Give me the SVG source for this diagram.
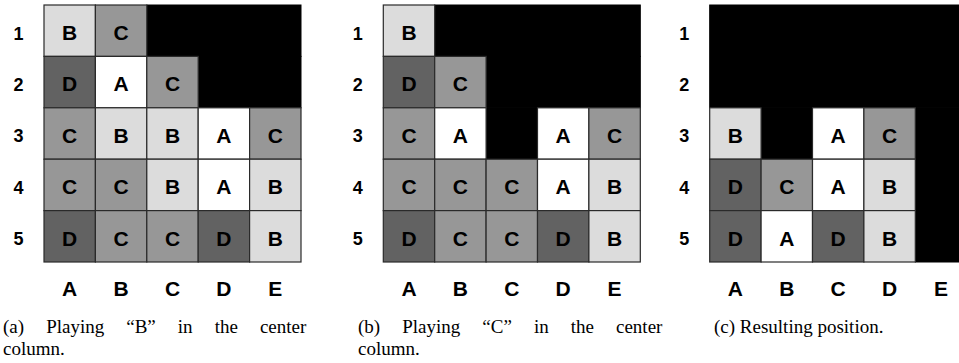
<svg xmlns="http://www.w3.org/2000/svg" width="959" height="363" viewBox="0 0 959 363">
  <style>
    .cell { stroke: #2a2a2a; stroke-width: 1.2; }
    .A { fill: #ffffff; }
    .B { fill: #dcdcdc; }
    .C { fill: #979797; }
    .D { fill: #626262; }
    .K { fill: #000000; stroke: #000000; stroke-width: 1; }
    .lt { font-family: "Liberation Sans", Arial, sans-serif; font-weight: bold; font-size: 21px; fill: #000; text-anchor: middle; }
    .rl { font-family: "Liberation Sans", Arial, sans-serif; font-weight: bold; font-size: 18px; fill: #000; text-anchor: middle; }
    .cap { font-family: "Liberation Serif", "Times New Roman", serif; font-size: 19px; fill: #000; }
    .just { word-spacing: 17.3px; }
  </style>
  <rect width="959" height="363" fill="#ffffff"/>

  <!-- Board (a): cells 51.4 px square -->
  <g id="board-a" transform="translate(44,5)">
    <g id="a-blocked">
      <rect class="K" x="102.8" y="0" width="154.2" height="51.4"/>
      <rect class="K" x="154.2" y="51.4" width="102.8" height="51.4"/>
    </g>
    <g id="a-1A"><rect class="cell B" x="0" y="0" width="51.4" height="51.4"/><text class="lt" x="25.7" y="35">B</text></g>
    <g id="a-1B"><rect class="cell C" x="51.4" y="0" width="51.4" height="51.4"/><text class="lt" x="77.1" y="35">C</text></g>
    <g id="a-2A"><rect class="cell D" x="0" y="51.4" width="51.4" height="51.4"/><text class="lt" x="25.7" y="86.4">D</text></g>
    <g id="a-2B"><rect class="cell A" x="51.4" y="51.4" width="51.4" height="51.4"/><text class="lt" x="77.1" y="86.4">A</text></g>
    <g id="a-2C"><rect class="cell C" x="102.8" y="51.4" width="51.4" height="51.4"/><text class="lt" x="128.5" y="86.4">C</text></g>
    <g id="a-3A"><rect class="cell C" x="0" y="102.8" width="51.4" height="51.4"/><text class="lt" x="25.7" y="137.8">C</text></g>
    <g id="a-3B"><rect class="cell B" x="51.4" y="102.8" width="51.4" height="51.4"/><text class="lt" x="77.1" y="137.8">B</text></g>
    <g id="a-3C"><rect class="cell B" x="102.8" y="102.8" width="51.4" height="51.4"/><text class="lt" x="128.5" y="137.8">B</text></g>
    <g id="a-3D"><rect class="cell A" x="154.2" y="102.8" width="51.4" height="51.4"/><text class="lt" x="179.9" y="137.8">A</text></g>
    <g id="a-3E"><rect class="cell C" x="205.6" y="102.8" width="51.4" height="51.4"/><text class="lt" x="231.3" y="137.8">C</text></g>
    <g id="a-4A"><rect class="cell C" x="0" y="154.2" width="51.4" height="51.4"/><text class="lt" x="25.7" y="189.2">C</text></g>
    <g id="a-4B"><rect class="cell C" x="51.4" y="154.2" width="51.4" height="51.4"/><text class="lt" x="77.1" y="189.2">C</text></g>
    <g id="a-4C"><rect class="cell B" x="102.8" y="154.2" width="51.4" height="51.4"/><text class="lt" x="128.5" y="189.2">B</text></g>
    <g id="a-4D"><rect class="cell A" x="154.2" y="154.2" width="51.4" height="51.4"/><text class="lt" x="179.9" y="189.2">A</text></g>
    <g id="a-4E"><rect class="cell B" x="205.6" y="154.2" width="51.4" height="51.4"/><text class="lt" x="231.3" y="189.2">B</text></g>
    <g id="a-5A"><rect class="cell D" x="0" y="205.6" width="51.4" height="51.4"/><text class="lt" x="25.7" y="240.6">D</text></g>
    <g id="a-5B"><rect class="cell C" x="51.4" y="205.6" width="51.4" height="51.4"/><text class="lt" x="77.1" y="240.6">C</text></g>
    <g id="a-5C"><rect class="cell C" x="102.8" y="205.6" width="51.4" height="51.4"/><text class="lt" x="128.5" y="240.6">C</text></g>
    <g id="a-5D"><rect class="cell D" x="154.2" y="205.6" width="51.4" height="51.4"/><text class="lt" x="179.9" y="240.6">D</text></g>
    <g id="a-5E"><rect class="cell B" x="205.6" y="205.6" width="51.4" height="51.4"/><text class="lt" x="231.3" y="240.6">B</text></g>
    <g id="a-rows">
      <text class="rl" x="-25.5" y="34.5">1</text>
      <text class="rl" x="-25.5" y="85.9">2</text>
      <text class="rl" x="-25.5" y="137.3">3</text>
      <text class="rl" x="-25.5" y="188.7">4</text>
      <text class="rl" x="-25.5" y="240.1">5</text>
    </g>
    <g id="a-cols">
      <text class="lt" x="25.7" y="291">A</text>
      <text class="lt" x="77.1" y="291">B</text>
      <text class="lt" x="128.5" y="291">C</text>
      <text class="lt" x="179.9" y="291">D</text>
      <text class="lt" x="231.3" y="291">E</text>
    </g>
  </g>

  <!-- Board (b) -->
  <g id="board-b" transform="translate(383.3,5)">
    <g id="b-blocked">
      <rect class="K" x="51.4" y="0" width="205.6" height="51.4"/>
      <rect class="K" x="102.8" y="51.4" width="154.2" height="51.4"/>
      <rect class="K" x="102.8" y="102.8" width="51.4" height="51.4"/>
    </g>
    <g id="b-1A"><rect class="cell B" x="0" y="0" width="51.4" height="51.4"/><text class="lt" x="25.7" y="35">B</text></g>
    <g id="b-2A"><rect class="cell D" x="0" y="51.4" width="51.4" height="51.4"/><text class="lt" x="25.7" y="86.4">D</text></g>
    <g id="b-2B"><rect class="cell C" x="51.4" y="51.4" width="51.4" height="51.4"/><text class="lt" x="77.1" y="86.4">C</text></g>
    <g id="b-3A"><rect class="cell C" x="0" y="102.8" width="51.4" height="51.4"/><text class="lt" x="25.7" y="137.8">C</text></g>
    <g id="b-3B"><rect class="cell A" x="51.4" y="102.8" width="51.4" height="51.4"/><text class="lt" x="77.1" y="137.8">A</text></g>
    <g id="b-3D"><rect class="cell A" x="154.2" y="102.8" width="51.4" height="51.4"/><text class="lt" x="179.9" y="137.8">A</text></g>
    <g id="b-3E"><rect class="cell C" x="205.6" y="102.8" width="51.4" height="51.4"/><text class="lt" x="231.3" y="137.8">C</text></g>
    <g id="b-4A"><rect class="cell C" x="0" y="154.2" width="51.4" height="51.4"/><text class="lt" x="25.7" y="189.2">C</text></g>
    <g id="b-4B"><rect class="cell C" x="51.4" y="154.2" width="51.4" height="51.4"/><text class="lt" x="77.1" y="189.2">C</text></g>
    <g id="b-4C"><rect class="cell C" x="102.8" y="154.2" width="51.4" height="51.4"/><text class="lt" x="128.5" y="189.2">C</text></g>
    <g id="b-4D"><rect class="cell A" x="154.2" y="154.2" width="51.4" height="51.4"/><text class="lt" x="179.9" y="189.2">A</text></g>
    <g id="b-4E"><rect class="cell B" x="205.6" y="154.2" width="51.4" height="51.4"/><text class="lt" x="231.3" y="189.2">B</text></g>
    <g id="b-5A"><rect class="cell D" x="0" y="205.6" width="51.4" height="51.4"/><text class="lt" x="25.7" y="240.6">D</text></g>
    <g id="b-5B"><rect class="cell C" x="51.4" y="205.6" width="51.4" height="51.4"/><text class="lt" x="77.1" y="240.6">C</text></g>
    <g id="b-5C"><rect class="cell C" x="102.8" y="205.6" width="51.4" height="51.4"/><text class="lt" x="128.5" y="240.6">C</text></g>
    <g id="b-5D"><rect class="cell D" x="154.2" y="205.6" width="51.4" height="51.4"/><text class="lt" x="179.9" y="240.6">D</text></g>
    <g id="b-5E"><rect class="cell B" x="205.6" y="205.6" width="51.4" height="51.4"/><text class="lt" x="231.3" y="240.6">B</text></g>
    <g id="b-rows">
      <text class="rl" x="-25.5" y="34.5">1</text>
      <text class="rl" x="-25.5" y="85.9">2</text>
      <text class="rl" x="-25.5" y="137.3">3</text>
      <text class="rl" x="-25.5" y="188.7">4</text>
      <text class="rl" x="-25.5" y="240.1">5</text>
    </g>
    <g id="b-cols">
      <text class="lt" x="25.7" y="291">A</text>
      <text class="lt" x="77.1" y="291">B</text>
      <text class="lt" x="128.5" y="291">C</text>
      <text class="lt" x="179.9" y="291">D</text>
      <text class="lt" x="231.3" y="291">E</text>
    </g>
  </g>

  <!-- Board (c) -->
  <g id="board-c" transform="translate(709.7,5)">
    <g id="c-blocked">
      <rect class="K" x="0" y="0" width="257" height="102.8"/>
      <rect class="K" x="51.4" y="102.8" width="51.4" height="51.4"/>
      <rect class="K" x="205.6" y="102.8" width="51.4" height="154.2"/>
    </g>
    <g id="c-3A"><rect class="cell B" x="0" y="102.8" width="51.4" height="51.4"/><text class="lt" x="25.7" y="137.8">B</text></g>
    <g id="c-3C"><rect class="cell A" x="102.8" y="102.8" width="51.4" height="51.4"/><text class="lt" x="128.5" y="137.8">A</text></g>
    <g id="c-3D"><rect class="cell C" x="154.2" y="102.8" width="51.4" height="51.4"/><text class="lt" x="179.9" y="137.8">C</text></g>
    <g id="c-4A"><rect class="cell D" x="0" y="154.2" width="51.4" height="51.4"/><text class="lt" x="25.7" y="189.2">D</text></g>
    <g id="c-4B"><rect class="cell C" x="51.4" y="154.2" width="51.4" height="51.4"/><text class="lt" x="77.1" y="189.2">C</text></g>
    <g id="c-4C"><rect class="cell A" x="102.8" y="154.2" width="51.4" height="51.4"/><text class="lt" x="128.5" y="189.2">A</text></g>
    <g id="c-4D"><rect class="cell B" x="154.2" y="154.2" width="51.4" height="51.4"/><text class="lt" x="179.9" y="189.2">B</text></g>
    <g id="c-5A"><rect class="cell D" x="0" y="205.6" width="51.4" height="51.4"/><text class="lt" x="25.7" y="240.6">D</text></g>
    <g id="c-5B"><rect class="cell A" x="51.4" y="205.6" width="51.4" height="51.4"/><text class="lt" x="77.1" y="240.6">A</text></g>
    <g id="c-5C"><rect class="cell D" x="102.8" y="205.6" width="51.4" height="51.4"/><text class="lt" x="128.5" y="240.6">D</text></g>
    <g id="c-5D"><rect class="cell B" x="154.2" y="205.6" width="51.4" height="51.4"/><text class="lt" x="179.9" y="240.6">B</text></g>
    <g id="c-rows">
      <text class="rl" x="-25.5" y="34.5">1</text>
      <text class="rl" x="-25.5" y="85.9">2</text>
      <text class="rl" x="-25.5" y="137.3">3</text>
      <text class="rl" x="-25.5" y="188.7">4</text>
      <text class="rl" x="-25.5" y="240.1">5</text>
    </g>
    <g id="c-cols">
      <text class="lt" x="25.7" y="291">A</text>
      <text class="lt" x="77.1" y="291">B</text>
      <text class="lt" x="128.5" y="291">C</text>
      <text class="lt" x="179.9" y="291">D</text>
      <text class="lt" x="231.3" y="291">E</text>
    </g>
  </g>

  <!-- No connectors in this figure -->
  <g id="connectors"/>

  <!-- Sub-captions; first lines are justified to the sub-figure width -->
  <g id="captions">
    <text class="cap just" x="3" y="333">(a) Playing “B” in the center</text>
    <text class="cap" x="3" y="355">column.</text>
    <text class="cap just" x="358" y="333">(b) Playing “C” in the center</text>
    <text class="cap" x="358" y="355">column.</text>
    <text class="cap" x="714" y="333">(c) Resulting position.</text>
  </g>
</svg>
